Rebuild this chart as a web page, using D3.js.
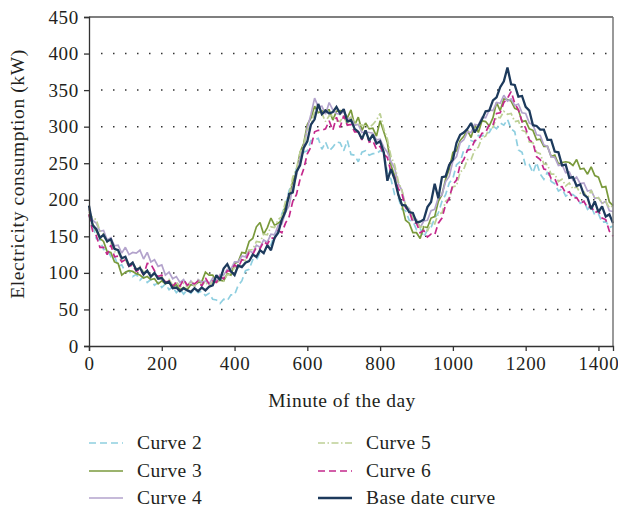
<!DOCTYPE html>
<html><head><meta charset="utf-8">
<script src="https://cdn.jsdelivr.net/npm/d3@7"></script>
<style>
body{margin:0;background:#fff;}
svg text{font-family:"Liberation Serif","Times New Roman",serif;fill:#231f20;}
</style></head>
<body><svg id="c" width="618" height="513"></svg>
<script>
// minutes sampled every 10 minutes, 0..1440
const minutes = d3.range(0, 1441, 10);
const yTicks = [0,50,100,150,200,250,300,350,400,450];
const xTicks = [0,200,400,600,800,1000,1200,1400];
const seriesNames = ["Curve 2","Curve 3","Curve 4","Curve 5","Curve 6","Base date curve"];

const curve2 = [178,168,147,145,132,133,122,123,109,111,101,103,
95,98,90,95,87,91,83,87,80,85,77,81,
73,78,71,77,72,78,73,75,69,72,64,63,
58,64,62,70,70,83,89,103,105,118,117,128,
127,137,138,153,159,181,192,213,222,243,252,265,
267,281,282,284,269,279,267,272,279,278,267,281,
262,261,252,265,267,261,263,263,267,265,237,228,
207,203,187,185,172,171,159,161,149,159,162,175,
182,198,207,223,229,248,252,268,267,281,279,288,
287,291,292,301,297,305,302,310,297,293,268,265,
246,248,237,251,235,228,238,225,222,212,215,205,
208,207,203,195,198,187,191,179,181,169,171,162,
164];
const curve3 = [180,167,158,147,143,129,128,115,113,97,101,103,
102,99,97,93,95,91,92,85,89,85,87,81,
84,77,80,77,84,83,87,88,101,97,97,88,
90,89,99,97,113,115,128,127,143,147,163,169,
153,162,175,165,168,172,193,202,225,237,265,277,
303,312,328,319,321,323,323,309,321,322,321,312,
323,302,313,295,305,297,298,287,308,293,278,247,
233,207,193,172,168,155,155,147,163,162,175,177,
198,207,228,242,265,267,281,287,295,285,303,292,
308,307,301,312,333,322,338,337,335,325,323,307,
308,297,295,282,283,273,273,259,261,249,251,252,
251,247,255,242,243,235,245,233,231,217,218,197,
192];
const curve4 = [187,172,168,157,158,145,148,137,138,127,135,125,
128,127,131,119,128,115,118,109,111,97,101,92,
95,87,91,82,89,81,91,87,89,85,93,89,
98,97,105,105,115,115,123,122,131,127,138,135,
145,142,153,152,165,167,183,192,218,232,258,272,
298,317,339,327,328,317,333,323,318,317,321,309,
313,302,303,292,293,292,291,282,283,272,265,252,
243,222,213,192,188,172,173,162,171,172,185,187,
203,207,225,232,253,259,278,282,293,292,303,302,
313,312,323,322,333,332,343,335,338,329,331,319,
318,305,303,289,288,275,273,259,258,247,248,237,
238,227,231,222,223,212,213,202,203,195,198,185,
184];
const curve5 = [184,175,173,157,153,142,141,129,129,117,118,109,
113,105,109,101,103,95,99,92,95,87,91,83,
88,81,86,81,89,82,91,83,88,81,89,85,
93,89,98,97,108,107,118,117,131,132,143,142,
153,152,163,162,173,177,198,207,231,242,265,275,
295,302,321,319,318,307,315,315,308,307,315,302,
313,305,303,302,301,299,303,309,318,297,283,259,
248,225,213,192,188,175,173,162,165,157,168,167,
181,182,198,202,218,219,238,242,255,255,268,272,
285,287,298,299,313,312,321,317,318,307,308,295,
293,279,278,265,263,249,248,235,235,225,228,219,
223,215,218,209,211,202,213,202,203,195,198,189,
192];
const curve6 = [180,157,151,135,135,125,138,122,123,115,118,109,
111,102,105,97,113,112,103,95,97,87,89,82,
87,82,91,83,87,85,89,82,93,85,89,87,
95,92,103,102,111,107,118,117,128,125,135,133,
143,139,148,147,158,155,168,177,198,207,228,242,
263,272,293,295,295,297,308,295,313,299,315,302,
303,293,293,282,295,279,281,269,273,262,258,237,
231,215,208,189,185,169,168,155,158,149,153,152,
168,175,193,202,221,227,248,255,268,269,281,282,
291,292,303,302,318,319,333,339,348,332,323,307,
298,282,278,259,255,242,241,229,229,217,218,209,
211,202,203,195,198,189,191,182,185,175,173,157,
150];
const baseCurve = [192,165,160,148,152,143,146,133,131,120,122,110,
114,104,107,98,103,95,100,92,93,86,88,79,
80,75,79,76,74,79,75,80,76,81,83,97,
90,106,112,102,97,110,108,114,116,125,122,131,
127,138,131,148,155,173,184,208,210,238,247,271,
280,303,310,331,317,322,318,320,327,318,324,307,
309,297,293,283,295,281,289,277,280,265,226,242,
228,207,193,192,183,182,169,170,173,190,197,222,
202,231,232,248,255,278,289,292,297,305,292,301,
310,321,322,336,340,354,362,381,358,357,341,342,
327,322,302,301,296,296,282,282,266,265,247,248,
230,231,219,221,207,203,187,198,183,191,177,180,
168];

const seriesValues = [curve2, curve3, curve4, curve5, curve6, baseCurve];
const colors = ["#8fcfe0","#7a9a3c","#b3a3cc","#bdd095","#c4288c","#1d3a5c"];
const dashes = ["7,4",null,null,"7,2.5,1.5,2.5","7,4",null];
const widths = [1.7,1.7,1.7,1.7,1.7,2.3];

const svg = d3.select("#c");
const L=89, R=613, T=17, B=346;
const x = d3.scaleLinear().domain([0,1440]).range([L,R]);
const y = d3.scaleLinear().domain([0,450]).range([B,T]);

// gridlines (dotted)
svg.append("g").selectAll("line").data(yTicks.filter(v=>v>0 && v<450)).join("line")
  .attr("x1",L+12).attr("x2",R).attr("y1",d=>y(d)).attr("y2",d=>y(d))
  .attr("stroke","#333").attr("stroke-width",1.5).attr("stroke-dasharray","1.5,10.5");

// series
const line = d3.line().x((d,i)=>x(minutes[i])).y(d=>y(d));
seriesValues.forEach((vals,k)=>{
  svg.append("path").datum(vals).attr("d",line).attr("fill","none")
    .attr("stroke",colors[k]).attr("stroke-width",widths[k])
    .attr("stroke-dasharray",dashes[k]).attr("stroke-linejoin","miter").attr("stroke-miterlimit",2);
});

// frame top/right
svg.append("line").attr("x1",L).attr("x2",R).attr("y1",T).attr("y2",T).attr("stroke","#555").attr("stroke-width",1.3);
svg.append("line").attr("x1",R).attr("x2",R).attr("y1",T).attr("y2",B).attr("stroke","#777").attr("stroke-width",1.5);

// axes
const ya = svg.append("g").attr("transform",`translate(${L},0)`)
  .call(d3.axisLeft(y).tickValues(yTicks).tickFormat(d3.format("d")).tickSize(5).tickPadding(5));
const xa = svg.append("g").attr("transform",`translate(0,${B})`)
  .call(d3.axisBottom(x).tickValues(xTicks).tickFormat(d3.format("d")).tickSize(5).tickPadding(6));
[ya,xa].forEach(a=>{
  a.select(".domain").attr("stroke","#333").attr("stroke-width",1.3);
  a.selectAll(".tick line").attr("stroke","#333").attr("stroke-width",1.3);
  a.selectAll("text").style("font-family","'Liberation Serif',serif").style("font-size","19px")
    .style("letter-spacing","0.7px").attr("fill","#231f20");
});

// axis titles
svg.append("text").attr("x",342).attr("y",407).attr("text-anchor","middle")
  .style("font-size","19.5px").style("letter-spacing","0.5px").text("Minute of the day");
svg.append("text").attr("transform","translate(24,174) rotate(-90)").attr("text-anchor","middle")
  .style("font-size","19.5px").style("letter-spacing","0.6px").text("Electricity consumption (kW)");

// legend
const legPos = [[89,443],[89,471],[89,498],[318,443],[318,471],[318,498]];
seriesNames.forEach((n,k)=>{
  const [lx,ly] = legPos[k];
  svg.append("line").attr("x1",lx).attr("x2",lx+34).attr("y1",ly).attr("y2",ly)
    .attr("stroke",colors[k]).attr("stroke-width",widths[k]).attr("stroke-dasharray",dashes[k]);
  svg.append("text").attr("x",lx+48).attr("y",ly+6).style("font-size","19.5px")
    .style("letter-spacing","0.4px").text(n);
});
</script></body></html>
